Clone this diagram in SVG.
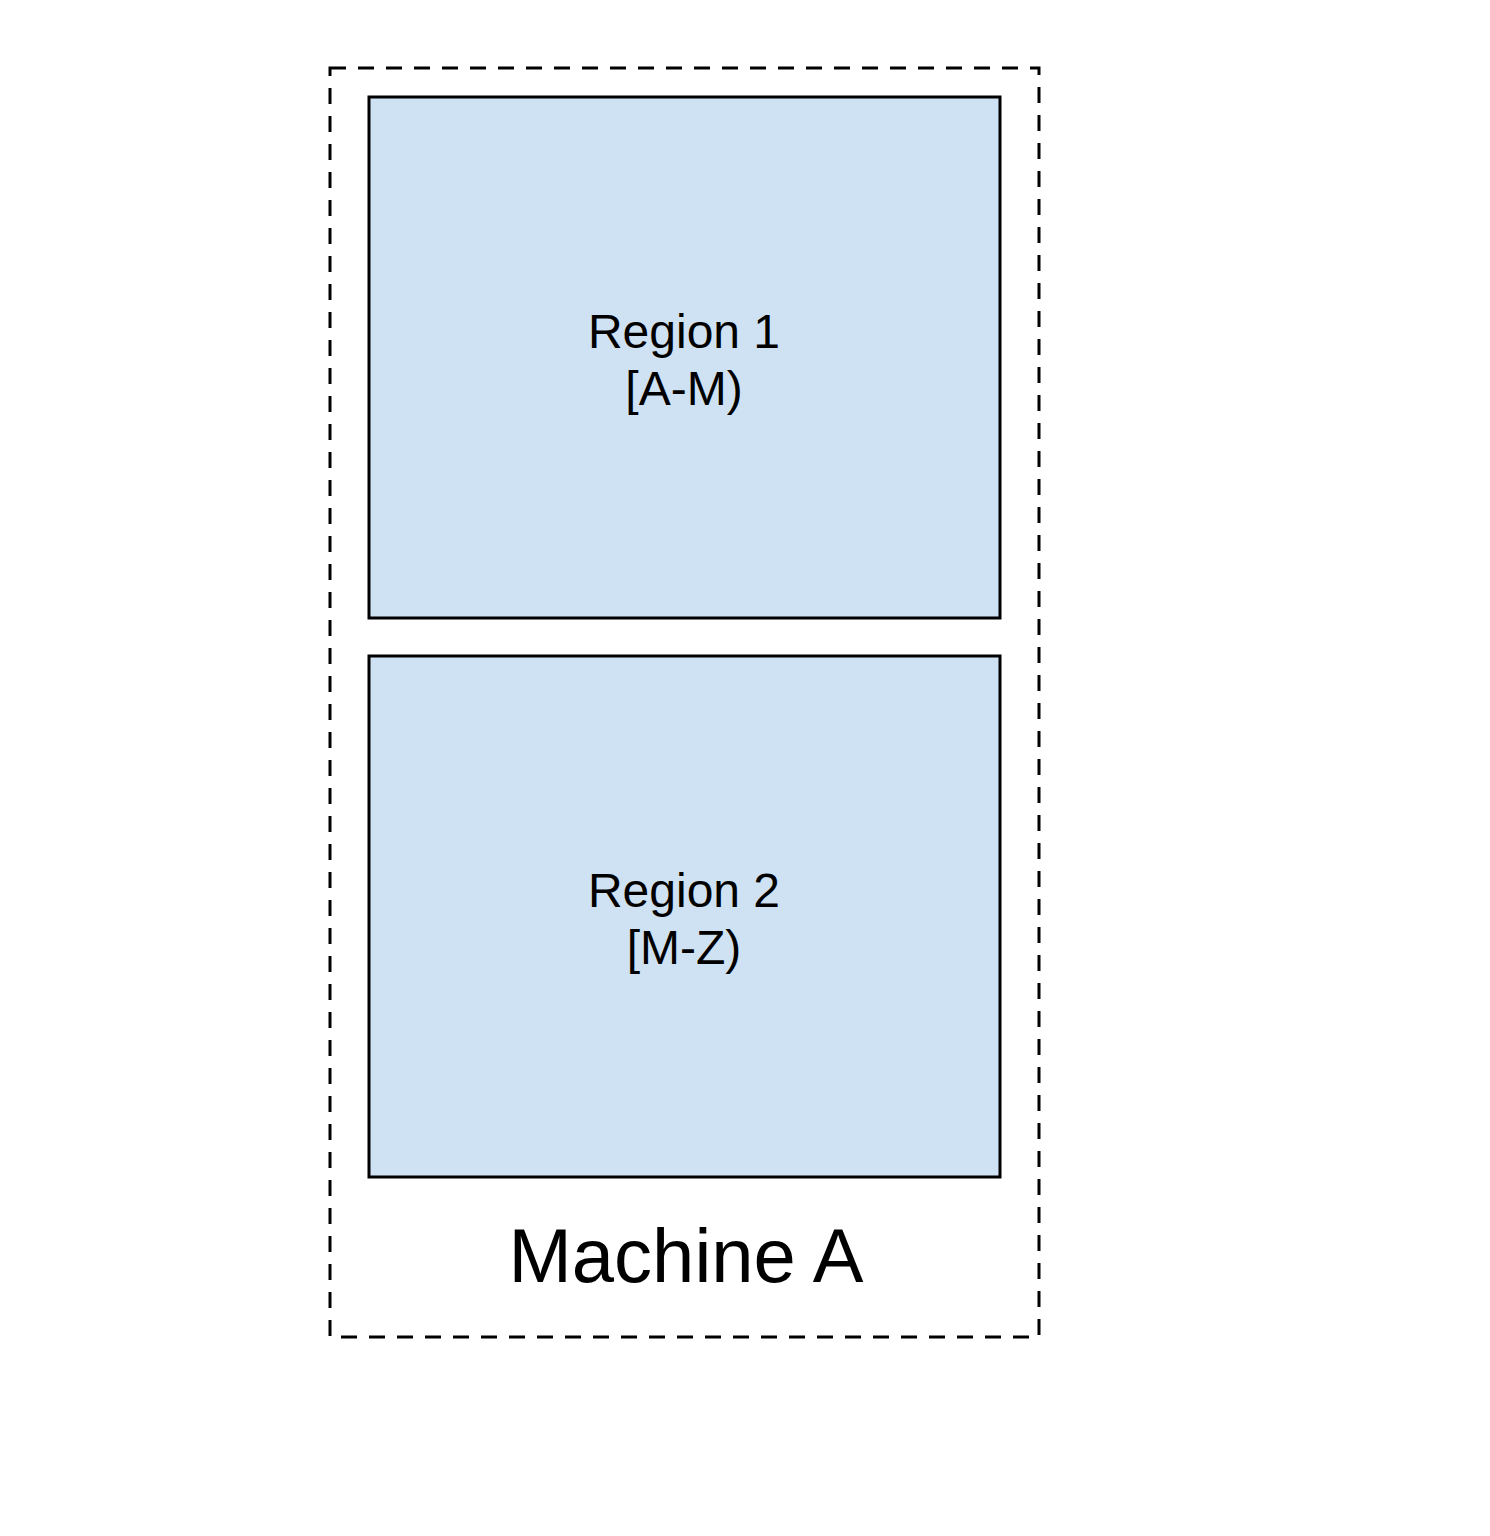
<svg xmlns="http://www.w3.org/2000/svg" width="1490" height="1536" viewBox="0 0 1490 1536">
<style>
.region{fill:#cfe2f3;stroke:#000;stroke-width:3}
.lbl{font-family:"Liberation Sans",Arial,sans-serif;font-size:48px;fill:#000;text-anchor:middle}
.big{font-family:"Liberation Sans",Arial,sans-serif;font-size:76px;fill:#000;text-anchor:middle}
</style>
<rect width="1490" height="1536" fill="#fff"/>
<g id="machineA">
<rect x="330" y="68" width="709" height="1269" fill="none" stroke="#000" stroke-width="3" stroke-dasharray="16 12"/>
<text class="big" x="686" y="1282">Machine A</text>
</g>
<g id="region1">
<rect class="region" x="369" y="97" width="631" height="521"/>
<text class="lbl" x="684" y="348">Region 1</text>
<text class="lbl" x="684" y="405">[A-M)</text>
</g>
<g id="region2">
<rect class="region" x="369" y="656" width="631" height="521"/>
<text class="lbl" x="684" y="907">Region 2</text>
<text class="lbl" x="684" y="964">[M-Z)</text>
</g>
<g id="connectors"/>
</svg>
